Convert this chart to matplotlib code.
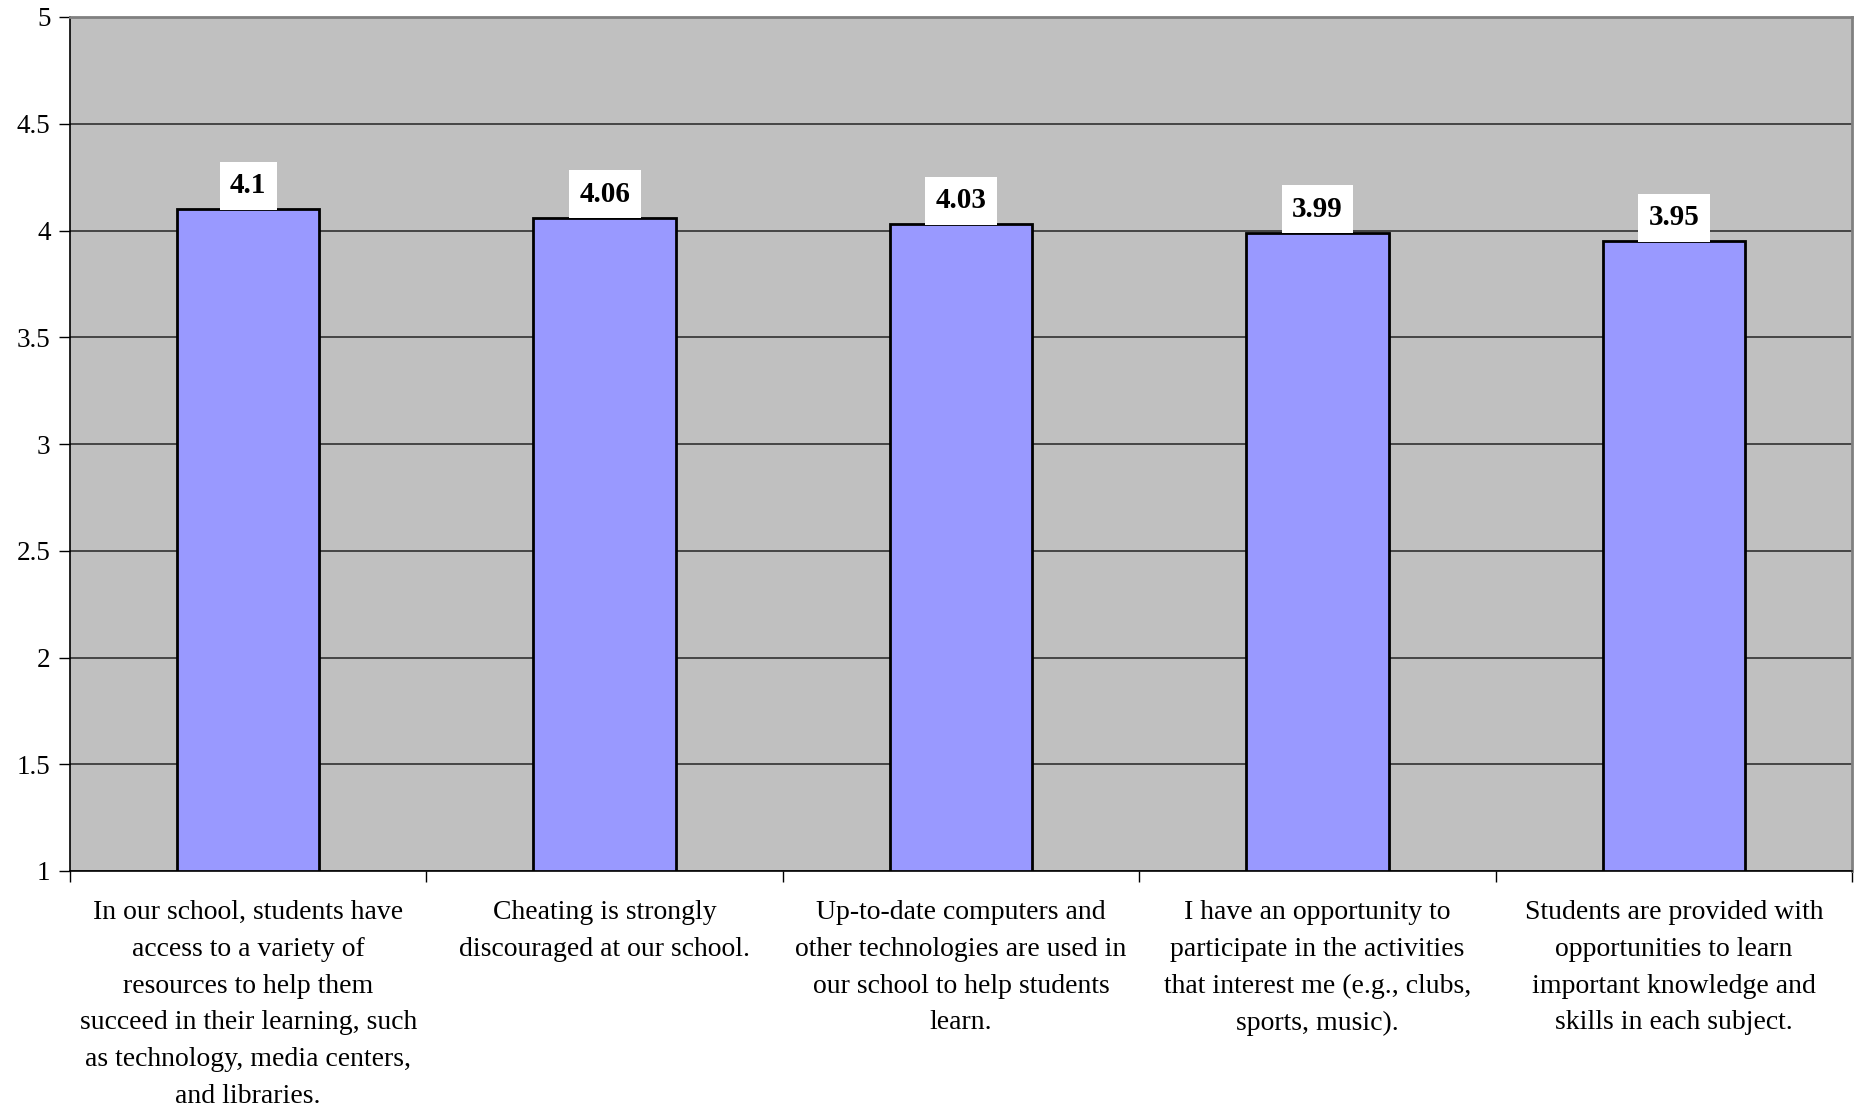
import matplotlib.pyplot as plt
import numpy as np

# Datos
categorias = [
    "In our school, students have\naccess to a variety of\nresources to help them\nsucceed in their learning, such\nas technology, media centers,\nand libraries.",
    "Cheating is strongly\ndiscouraged at our school.",
    "Up-to-date computers and\nother technologies are used in\nour school to help students\nlearn.",
    "I have an opportunity to\nparticipate in the activities\nthat interest me (e.g., clubs,\nsports, music).",
    "Students are provided with\nopportunities to learn\nimportant knowledge and\nskills in each subject.",
]
valores = [4.1, 4.06, 4.03, 3.99, 3.95]
etiquetas = ["4.1", "4.06", "4.03", "3.99", "3.95"]
yticks = [1, 1.5, 2, 2.5, 3, 3.5, 4, 4.5, 5]
ytick_labels = ["1", "1.5", "2", "2.5", "3", "3.5", "4", "4.5", "5"]

plt.rcParams['font.family'] = ['Liberation Serif', 'DejaVu Serif']

fig = plt.figure(figsize=(18.6, 11.11), dpi=100)
ax = fig.add_axes([70 / 1860, 1 - 871 / 1111, (1852 - 70) / 1860, (871 - 17) / 1111])
ax.set_facecolor('#C0C0C0')

x = np.arange(len(valores))
ax.bar(x, [v - 1 for v in valores], bottom=1, width=0.4, color='#9999FF',
       edgecolor='black', linewidth=2, zorder=3)

# Etiquetas de valor
for xi, v, t in zip(x, valores, etiquetas):
    ax.annotate(t, (xi, v), xytext=(0, 7), textcoords='offset points',
                ha='center', va='bottom', fontsize=21, fontweight='bold',
                bbox=dict(boxstyle='square,pad=0.36', fc='white', ec='none'),
                zorder=4)

ax.set_ylim(1, 5)
ax.set_xlim(-0.5, len(valores) - 0.5)
ax.set_yticks(yticks)
ax.set_yticklabels(ytick_labels, fontsize=19.5)
ax.yaxis.grid(True, color='#303030', linewidth=1.2, zorder=1)
ax.set_axisbelow(True)

# Ticks del eje x en los limites de categoria
ax.set_xticks(np.arange(len(valores) + 1) - 0.5)
ax.set_xticklabels([])
ax.tick_params(axis='x', length=8, width=1, color='black', direction='out')
ax.tick_params(axis='y', length=8, width=1, color='black', direction='out', pad=6)

for xi, c in zip(x, categorias):
    ax.text(xi, -0.034, c, transform=ax.get_xaxis_transform(), ha='center', va='top',
            fontsize=20, linespacing=1.62)

for s in ['left', 'bottom']:
    ax.spines[s].set_color('black')
    ax.spines[s].set_linewidth(1.2)
for s in ['top', 'right']:
    ax.spines[s].set_color('#808080')
    ax.spines[s].set_linewidth(2)

plt.savefig("out.png", dpi=100)
